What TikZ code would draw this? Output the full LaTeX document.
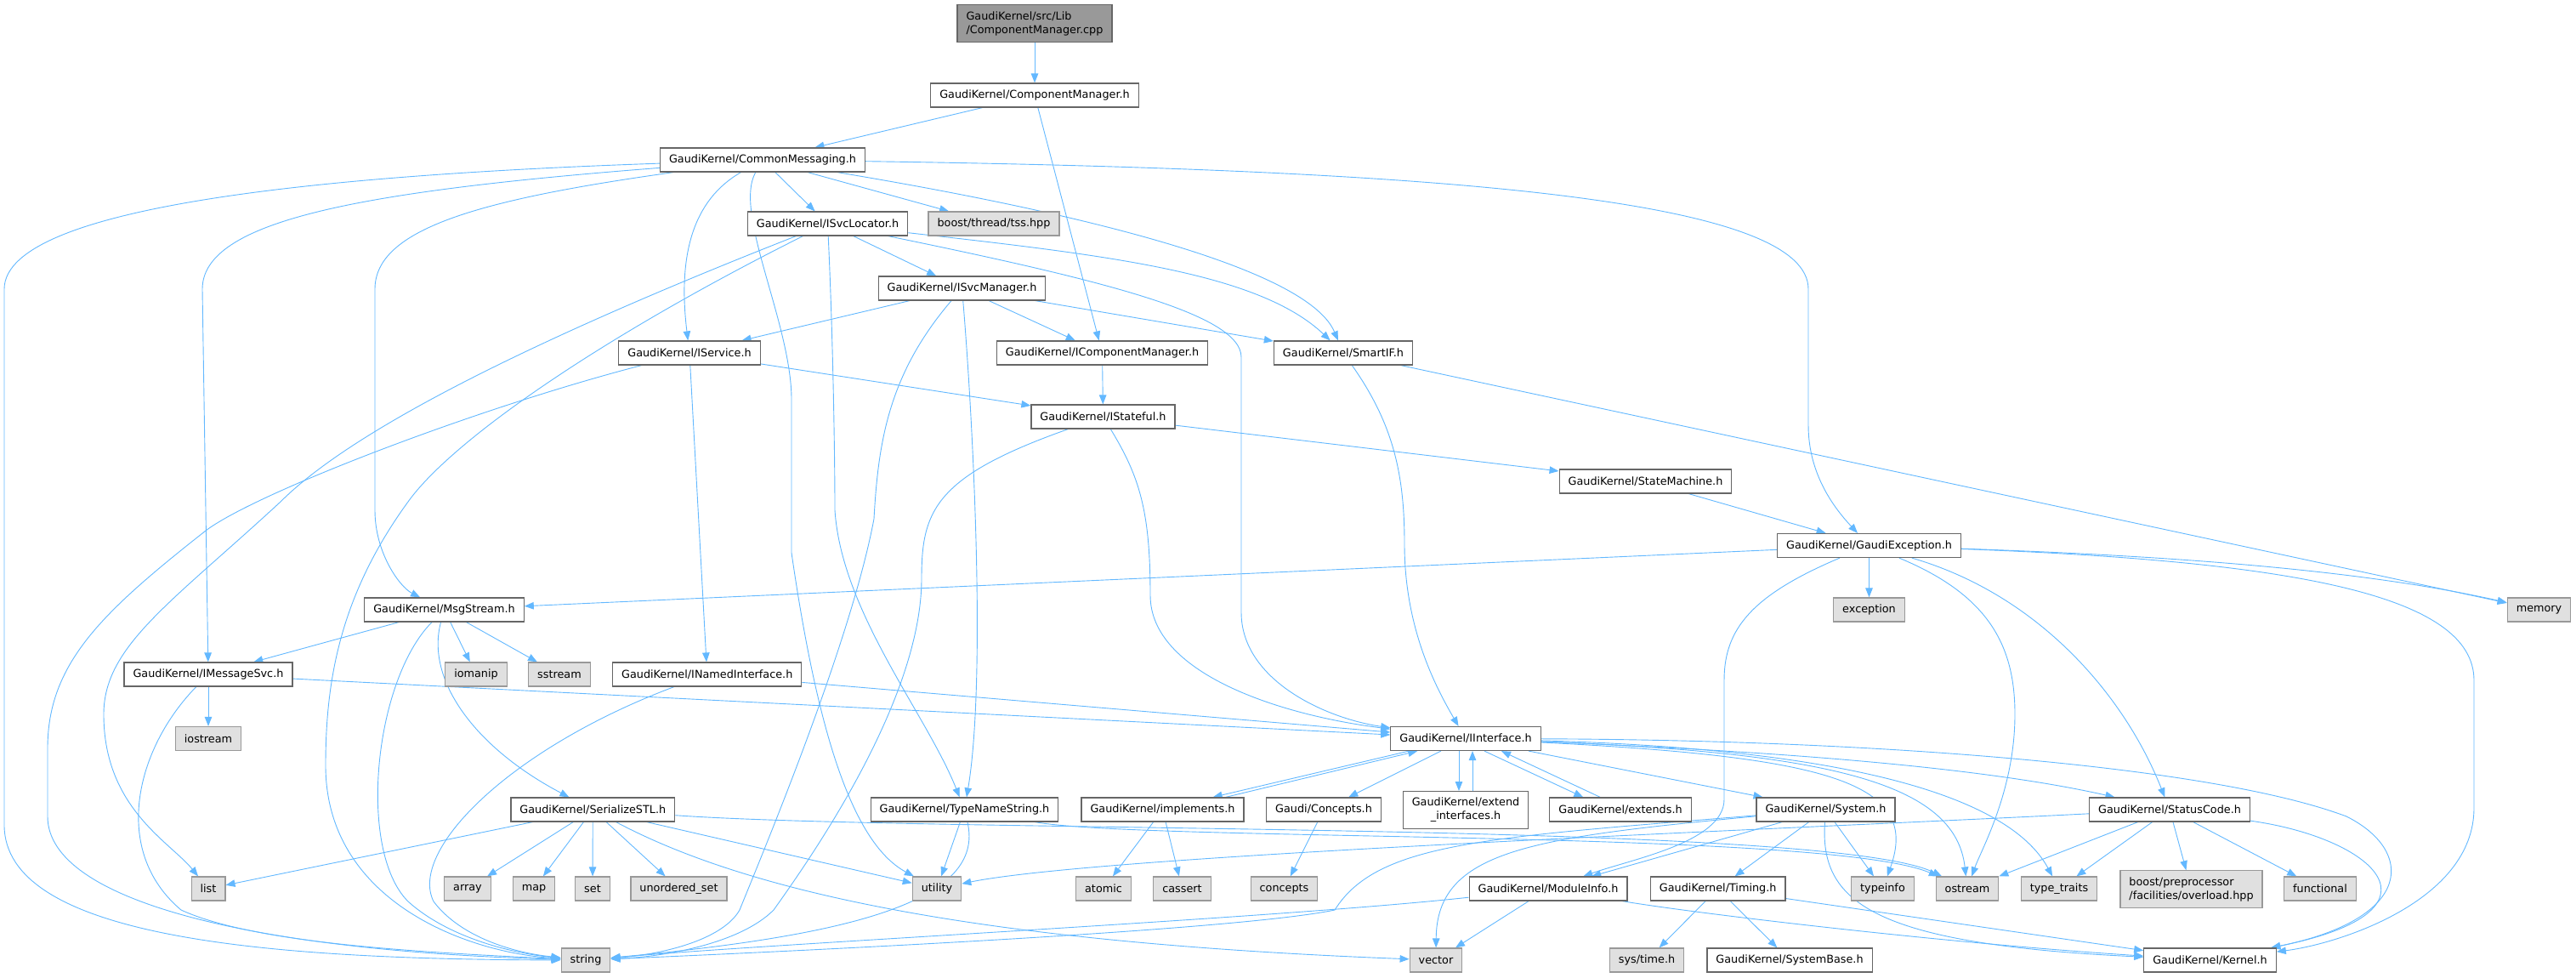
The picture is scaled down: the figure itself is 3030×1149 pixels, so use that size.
\documentclass[tikz,border=0pt]{standalone}
\usepackage{fontspec}
\setmainfont{DejaVu Sans}
\usetikzlibrary{arrows.meta}

\definecolor{edgeblue}{HTML}{63B8FF}
\definecolor{boxline}{HTML}{666666}
\definecolor{sysfill}{HTML}{E0E0E0}
\definecolor{sysline}{HTML}{999999}
\pgfdeclarelayer{edges}
\pgfsetlayers{edges,main}

\begin{document}
\begin{tikzpicture}[x=1pt,y=-1pt,
  file/.style={draw=boxline,fill=white,line width=1.2pt,inner xsep=10.5pt,inner ysep=7.5pt,
    minimum height=28pt,font=\fontsize{12.8}{16}\selectfont},
  sys/.style={file,draw=sysline,fill=sysfill},
  top/.style={file,fill=sysline,align=left},
  dep/.style={draw=edgeblue,line width=0.9pt,-{Triangle[length=11pt,width=8.5pt]}}]
\useasboundingbox (0,0) rectangle (3030,1149);
% files
\node[top] (root) at (1217,27.5) {GaudiKernel/src/Lib\\/ComponentManager.cpp};
\node[file] (cmh) at (1217,112) {GaudiKernel/ComponentManager.h};
\node[file] (cm) at (897,188) {GaudiKernel/CommonMessaging.h};
\node[file] (isl) at (973.5,263) {GaudiKernel/ISvcLocator.h};
\node[sys] (tss) at (1169,263) {boost/thread/tss.hpp};
\node[file] (ismgr) at (1131.5,339) {GaudiKernel/ISvcManager.h};
\node[file] (isvc) at (811,415) {GaudiKernel/IService.h};
\node[file] (icm) at (1296.5,415) {GaudiKernel/IComponentManager.h};
\node[file] (smartif) at (1580,415) {GaudiKernel/SmartIF.h};
\node[file] (istate) at (1297.5,490) {GaudiKernel/IStateful.h};
\node[file] (statem) at (1935.5,566) {GaudiKernel/StateMachine.h};
\node[file] (gexc) at (2198.5,641.5) {GaudiKernel/GaudiException.h};
\node[sys] (exc) at (2198.5,717) {exception};
\node[sys] (memory) at (2986.5,717) {memory};
\node[file] (msgs) at (522.5,717) {GaudiKernel/MsgStream.h};
\node[file] (imsvc) at (245,793) {GaudiKernel/IMessageSvc.h};
\node[sys] (iomanip) at (560,793) {iomanip};
\node[sys] (sstream) at (658,793) {sstream};
\node[file] (inamed) at (831.75,793) {GaudiKernel/INamedInterface.h};
\node[sys] (iostream) at (245,868.5) {iostream};
\node[file] (iif) at (1724,868.5) {GaudiKernel/IInterface.h};
\node[file] (serial) at (697.3,952) {GaudiKernel/SerializeSTL.h};
\node[file] (typename) at (1134.5,952) {GaudiKernel/TypeNameString.h};
\node[file] (impl) at (1367.5,952) {GaudiKernel/implements.h};
\node[file] (concepth) at (1557,952) {Gaudi/Concepts.h};
\node[file,align=center] (extint) at (1724,952.5) {GaudiKernel/extend\\\_interfaces.h};
\node[file] (extends) at (1906,952) {GaudiKernel/extends.h};
\node[file] (system) at (2147.5,952) {GaudiKernel/System.h};
\node[file] (statusc) at (2552,952) {GaudiKernel/StatusCode.h};
\node[sys] (list) at (245,1045) {list};
\node[sys] (array) at (550,1045) {array};
\node[sys] (map) at (628,1045) {map};
\node[sys] (set) at (697,1045) {set};
\node[sys] (uset) at (798.5,1045) {unordered\_set};
\node[sys] (utility) at (1102,1045) {utility};
\node[sys] (atomic) at (1298,1045) {atomic};
\node[sys] (cassert) at (1390.5,1045) {cassert};
\node[sys] (concepts) at (1510.5,1045) {concepts};
\node[file] (modinfo) at (1821,1045) {GaudiKernel/ModuleInfo.h};
\node[file] (timing) at (2020.7,1045) {GaudiKernel/Timing.h};
\node[sys] (typeinfo) at (2214.5,1045) {typeinfo};
\node[sys] (ostream) at (2314,1045) {ostream};
\node[sys] (typetr) at (2422,1045) {type\_traits};
\node[sys,align=left] (boostpp) at (2577.5,1045.5) {boost/preprocessor\\/facilities/overload.hpp};
\node[sys] (functional) at (2729,1045) {functional};
\node[sys] (string) at (689,1129) {string};
\node[sys] (vector) at (1689,1129) {vector};
\node[sys] (systime) at (1937,1129) {sys/time.h};
\node[file] (sysbase) at (2105,1129) {GaudiKernel/SystemBase.h};
\node[file] (kernel) at (2599.5,1129) {GaudiKernel/Kernel.h};
\begin{pgfonlayer}{edges}
% top of the graph
\draw[dep] (root) -- (cmh);
\draw[dep] (cmh) -- (cm);
\draw[dep] (cmh) -- (icm);
\draw[dep] (cm) -- (isl);
\draw[dep] (cm) -- (tss);
\draw[dep] (cm) .. controls (815,235) and (797,300) .. (isvc);
\draw[dep] (cm) .. controls (400,205) and (5,240) .. (5,340) -- (5,970) .. controls (5,1100) and (300,1128) .. (string);
\draw[dep] (cm) .. controls (420,225) and (238,260) .. (238,340) -- (imsvc);
\draw[dep] (cm) .. controls (560,235) and (441,270) .. (441,340) -- (441,600) .. controls (441,650) and (470,690) .. (msgs);
\draw[dep] (cm) .. controls (862,250) and (931,380) .. (931,470) -- (931,650) .. controls (960,850) and (1000,990) .. (utility);
\draw[dep] (cm) .. controls (1300,255) and (1540,320) .. (smartif);
\draw[dep] (cm) .. controls (1750,200) and (2127,240) .. (2127,340) -- (2127,500) .. controls (2127,560) and (2160,600) .. (gexc);
% ISvcLocator
\draw[dep] (isl) -- (ismgr);
\draw[dep] (isl) .. controls (650,390) and (420,500) .. (330,590) .. controls (200,710) and (122,760) .. (122,840) .. controls (122,950) and (200,990) .. (list);
\draw[dep] (isl) .. controls (700,400) and (530,520) .. (480,590) .. controls (400,700) and (383,800) .. (383,900) .. controls (383,1060) and (550,1120) .. (string);
\draw[dep] (isl) .. controls (980,400) and (982,540) .. (982,600) .. controls (990,720) and (1090,840) .. (typename);
\draw[dep] (isl) .. controls (1300,330) and (1460,370) .. (1460,420) -- (1460,720) .. controls (1460,800) and (1560,845) .. (iif);
\draw[dep] (isl) .. controls (1300,300) and (1480,320) .. (smartif);
% ISvcManager
\draw[dep] (ismgr) -- (isvc);
\draw[dep] (ismgr) -- (icm);
\draw[dep] (ismgr) -- (smartif);
\draw[dep] (ismgr) .. controls (1045,440) and (1033,520) .. (1028,610) .. controls (1000,760) and (890,1020) .. (870,1070) .. controls (850,1105) and (780,1122) .. (string);
\draw[dep] (ismgr) .. controls (1145,500) and (1160,800) .. (typename);
% IService
\draw[dep] (isvc) -- (istate);
\draw[dep] (isvc) -- (inamed);
\draw[dep] (isvc) .. controls (560,480) and (300,580) .. (242,624) .. controls (120,720) and (56,780) .. (56,880) -- (56,960) .. controls (56,1060) and (300,1118) .. (string);
% IComponentManager, IStateful
\draw[dep] (icm) -- (istate);
\draw[dep] (istate) -- (statem);
\draw[dep] (istate) .. controls (1100,560) and (1084,600) .. (1084,680) .. controls (1084,820) and (960,1000) .. (910,1070) .. controls (870,1110) and (780,1125) .. (string);
\draw[dep] (istate) .. controls (1340,560) and (1353,600) .. (1353,700) .. controls (1353,790) and (1500,840) .. (iif);
% SmartIF, StateMachine
\draw[dep] (smartif) .. controls (1640,500) and (1652,560) .. (1652,640) .. controls (1652,740) and (1690,810) .. (iif);
\draw[dep] (smartif) -- (memory);
\draw[dep] (statem) -- (gexc);
% GaudiException
\draw[dep] (gexc) -- (msgs);
\draw[dep] (gexc) -- (exc);
\draw[dep] (gexc) .. controls (2600,655) and (2800,675) .. (memory);
\draw[dep] (gexc) .. controls (2340,700) and (2370,760) .. (2370,840) .. controls (2370,930) and (2330,1000) .. (ostream);
\draw[dep] (gexc) .. controls (2400,700) and (2500,820) .. (statusc);
\draw[dep] (gexc) .. controls (2700,660) and (2910,700) .. (2910,800) -- (2910,950) .. controls (2910,1060) and (2750,1110) .. (kernel);
\draw[dep] (gexc) .. controls (2060,700) and (2028,740) .. (2028,800) -- (2028,940) .. controls (2028,990) and (1920,1010) .. (modinfo);
% MsgStream
\draw[dep] (msgs) -- (imsvc);
\draw[dep] (msgs) -- (iomanip);
\draw[dep] (msgs) -- (sstream);
\draw[dep] (msgs) .. controls (440,800) and (420,1000) .. (480,1060) .. controls (530,1105) and (610,1122) .. (string);
\draw[dep] (msgs) .. controls (500,800) and (560,880) .. (serial);
% IMessageSvc, INamedInterface
\draw[dep] (imsvc) -- (iostream);
\draw[dep] (imsvc) .. controls (160,880) and (130,1000) .. (213,1070) .. controls (300,1110) and (500,1120) .. (string);
\draw[dep] (imsvc) -- (iif);
\draw[dep] (inamed) -- (iif);
\draw[dep] (inamed) .. controls (600,880) and (480,1000) .. (510,1060) .. controls (540,1100) and (600,1120) .. (string);
% IInterface
\draw[dep] ([xshift=22pt]iif.south west) -- ([xshift=-37pt]impl.north east);
\draw[dep] ([xshift=-22pt]impl.north east) -- ([xshift=32pt]iif.south west);
\draw[dep] (iif) -- (concepth);
\draw[dep] ([xshift=-8pt]iif.south) -- ([xshift=-8pt]extint.north);
\draw[dep] ([xshift=8pt]extint.north) -- ([xshift=8pt]iif.south);
\draw[dep] ([xshift=22pt]iif.south) -- ([xshift=40pt]extends.north west);
\draw[dep] ([xshift=60pt]extends.north west) -- ([xshift=42pt]iif.south);
\draw[dep] (iif) -- (system);
\draw[dep] (iif) .. controls (2000,880) and (2300,895) .. (statusc);
\draw[dep] (iif) .. controls (2150,880) and (2360,930) .. (typetr);
\draw[dep] (iif) .. controls (2150,885) and (2300,920) .. (ostream);
\draw[dep] (iif) .. controls (2150,890) and (2260,920) .. (typeinfo);
\draw[dep] (iif) .. controls (2200,870) and (2600,900) .. (2760,960) .. controls (2840,1000) and (2840,1080) .. (kernel);
% implements, Concepts
\draw[dep] (impl) -- (atomic);
\draw[dep] (impl) -- (cassert);
\draw[dep] (concepth) -- (concepts);
% SerializeSTL
\foreach \t in {list,array,map,set,uset,utility}
  \draw[dep] (serial) -- (\t);
\draw[dep] (serial) .. controls (900,1060) and (1200,1110) .. (vector);
\draw[dep] (serial) .. controls (1100,980) and (2150,965) .. (ostream);
% TypeNameString
\draw[dep] (typename) -- (utility);
\draw[dep] (typename) .. controls (1160,1060) and (1000,1100) .. (string);
\draw[dep] (typename) .. controls (1350,990) and (2150,975) .. (ostream);
% System
\draw[dep] (system) -- (modinfo);
\draw[dep] (system) -- (timing);
\draw[dep] (system) -- (typeinfo);
\draw[dep] (system) .. controls (2140,1060) and (2200,1110) .. (kernel);
\draw[dep] (system) .. controls (1750,985) and (1620,990) .. (1570,1070) .. controls (1450,1095) and (900,1120) .. (string);
\draw[dep] (system) .. controls (1800,985) and (1690,1000) .. (vector);
% StatusCode
\draw[dep] (statusc) .. controls (2100,975) and (1300,1005) .. (utility);
\foreach \t in {ostream,typetr,boostpp,functional}
  \draw[dep] (statusc) -- (\t);
\draw[dep] (statusc) .. controls (2790,985) and (2890,1070) .. (kernel);
% ModuleInfo, Timing
\draw[dep] (modinfo) .. controls (1500,1080) and (900,1110) .. (string);
\draw[dep] (modinfo) -- (vector);
\draw[dep] (modinfo) .. controls (2000,1075) and (2300,1110) .. (kernel);
\draw[dep] (timing) -- (systime);
\draw[dep] (timing) -- (sysbase);
\draw[dep] (timing) -- (kernel);
\end{pgfonlayer}
\end{tikzpicture}
\end{document}
